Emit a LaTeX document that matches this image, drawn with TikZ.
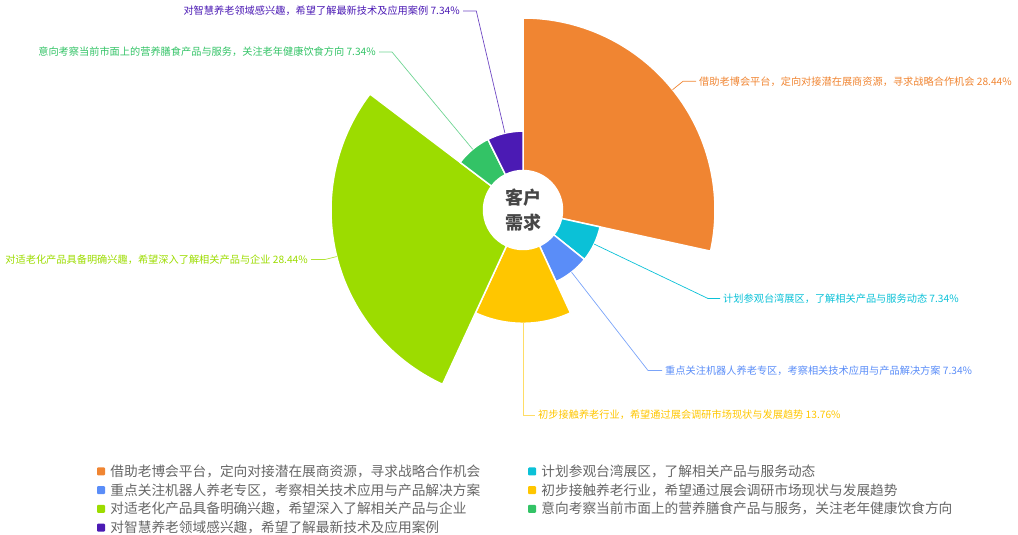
\documentclass[tikz,border=0pt]{standalone}
\usepackage{fontspec}
\setmainfont{Noto Sans CJK SC}
\usetikzlibrary{positioning,calc}

\definecolor{orangeC}{HTML}{F08532}
\definecolor{cyanC}{HTML}{0BC1D7}
\definecolor{blueC}{HTML}{5A8DF8}
\definecolor{yellowC}{HTML}{FFC600}
\definecolor{limeC}{HTML}{9CDC00}
\definecolor{greenC}{HTML}{33C366}
\definecolor{purpleC}{HTML}{4B1AB4}
\definecolor{hubgray}{HTML}{464646}
\definecolor{leggray}{HTML}{666666}

\tikzset{
  lbl/.style={font=\fontsize{10.2}{12}\selectfont, inner sep=0pt},
  leader/.style={line width=0.7pt},
  legkey/.style={minimum size=8pt, inner sep=0pt, rounded corners=1pt},
  legtxt/.style={font=\fontsize{13.7}{15}\selectfont, text=leggray, inner sep=0pt}
}

\begin{document}
\begin{tikzpicture}[x=1pt,y=1pt]
    \useasboundingbox (0,0) rectangle (1018,535);
    \coordinate (o) at (523,325);

    % rose sectors: start / end / outer radius / colour
    \begin{scope}[shift={(o)}]
        \foreach \a/\b/\r/\c in {90/-12.384/192/orangeC, -12.384/-38.808/78.9/cyanC,
                                 -38.808/-65.232/78.9/blueC, -65.232/-114.768/113.3/yellowC,
                                 -114.768/-217.152/192/limeC, -217.152/-243.576/78.9/greenC,
                                 -243.576/-270/78.9/purpleC}{
            \filldraw[fill=\c, draw=white, line width=1.5pt]
                (\a:39.5) arc[start angle=\a, end angle=\b, radius=39.5]
                -- (\b:\r) arc[start angle=\b, end angle=\a, radius=\r] -- cycle;
        }
    \end{scope}
    \node[font=\bfseries\fontsize{18}{25}\selectfont, text=hubgray, align=center] (hub) at (o) {客户\\需求};

    % leader lines
    \coordinate (s1) at ($(o)+(38.808:192)$);
    \coordinate (k1) at (683,453.7);
    \coordinate (e1) at (696,453.7);
    \coordinate (s2) at ($(o)+(-25.596:78.9)$);
    \coordinate (k2) at (708,236.5);
    \coordinate (e2) at (720,236.5);
    \coordinate (s3) at ($(o)+(-52.02:78.9)$);
    \coordinate (k3) at (648,164.5);
    \coordinate (e3) at (662,164.5);
    \coordinate (s4) at ($(o)+(-90:113.3)$);
    \coordinate (k4) at (523,120);
    \coordinate (e4) at (535,120);
    \coordinate (s5) at ($(o)+(-165.96:192)$);
    \coordinate (k5) at (325,275.5);
    \coordinate (e5) at (311,275.5);
    \coordinate (s6) at ($(o)+(129.636:78.9)$);
    \coordinate (k6) at (392,483);
    \coordinate (e6) at (379,483);
    \coordinate (s7) at ($(o)+(103.212:78.9)$);
    \coordinate (k7) at (476.3,524);
    \coordinate (e7) at (463,524);

    \draw[leader, orangeC] (s1) -- (k1) -- (e1);
    \draw[leader, cyanC] (s2) -- (k2) -- (e2);
    \draw[leader, blueC!80] (s3) -- (k3) -- (e3);
    \draw[leader, yellowC!60] (s4) -- (k4) -- (e4);
    \draw[leader, limeC!80] (s5) -- (k5) -- (e5);
    \draw[leader, greenC!70] (s6) -- (k6) -- (e6);
    \draw[leader, purpleC!80] (s7) -- (k7) -- (e7);

    \node[lbl, text=orangeC, right=3pt of e1] (t1) {借助老博会平台，定向对接潜在展商资源，寻求战略合作机会 28.44\%};
    \node[lbl, text=cyanC, right=3pt of e2] (t2) {计划参观台湾展区，了解相关产品与服务动态 7.34\%};
    \node[lbl, text=blueC, right=3pt of e3] (t3) {重点关注机器人养老专区，考察相关技术应用与产品解决方案 7.34\%};
    \node[lbl, text=yellowC, right=3pt of e4] (t4) {初步接触养老行业，希望通过展会调研市场现状与发展趋势 13.76\%};
    \node[lbl, text=limeC, left=3pt of e5] (t5) {对适老化产品具备明确兴趣，希望深入了解相关产品与企业 28.44\%};
    \node[lbl, text=greenC, left=3pt of e6] (t6) {意向考察当前市面上的营养膳食产品与服务，关注老年健康饮食方向 7.34\%};
    \node[lbl, text=purpleC, left=3pt of e7] (t7) {对智慧养老领域感兴趣，希望了解最新技术及应用案例 7.34\%};

    % legend
    \foreach \c/\x/\y/\txt in {orangeC/101/63.5/借助老博会平台，定向对接潜在展商资源，寻求战略合作机会,
                               blueC/101/44.8/重点关注机器人养老专区，考察相关技术应用与产品解决方案,
                               limeC/101/26.1/对适老化产品具备明确兴趣，希望深入了解相关产品与企业,
                               purpleC/101/7.4/对智慧养老领域感兴趣，希望了解最新技术及应用案例,
                               cyanC/532/63.5/计划参观台湾展区，了解相关产品与服务动态,
                               yellowC/532/44.8/初步接触养老行业，希望通过展会调研市场现状与发展趋势,
                               greenC/532/26.1/意向考察当前市面上的营养膳食产品与服务，关注老年健康饮食方向}{
        \node[legkey, fill=\c] (key\c) at (\x,\y) {};
        \node[legtxt, right=5pt of key\c] (leg\c) {\txt};
    }
\end{tikzpicture}
\end{document}
